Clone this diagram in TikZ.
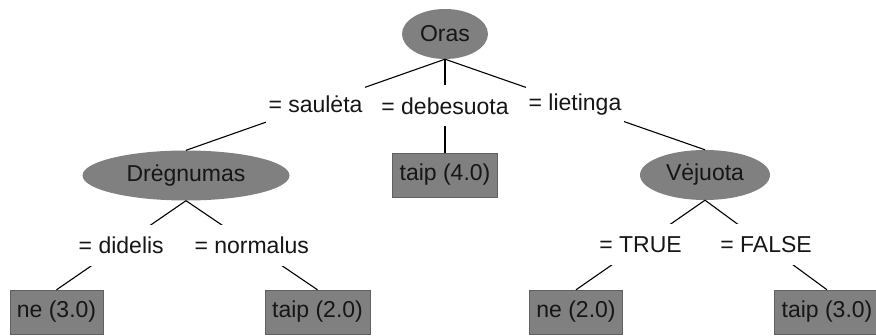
\documentclass[tikz,border=0pt]{standalone}
\usepackage{fontspec}
\setmainfont{Liberation Sans}
\usetikzlibrary{shapes.geometric}
\definecolor{splitgray}{RGB}{128,128,128}
\definecolor{leafframe}{RGB}{96,96,96}
\definecolor{inktext}{RGB}{22,22,22}
\newcommand{\treefont}{\fontsize{23}{27}\selectfont}

\begin{document}
\begin{tikzpicture}[x=1pt,y=-1pt,
  attr/.style={ellipse,fill=splitgray,inner sep=0pt,minimum height=50pt,font=\treefont,text=inktext},
  leaf/.style={rectangle,fill=splitgray,draw=leafframe,thin,inner xsep=7pt,inner ysep=0pt,minimum height=44pt,font=\treefont,text=inktext},
  val/.style={fill=white,inner xsep=3pt,inner ysep=0pt,minimum height=41pt,font=\treefont,text=inktext},
  branch/.style={draw=black,line width=1.1pt},
]
\clip (0,0) rectangle (876,336);
\fill[white] (0,0) rectangle (876,336);

% ---- attribute nodes ----
\node[attr,minimum width=86pt]  (oras) at (445,34)    {Oras};
\node[attr,minimum width=207pt] (dreg) at (186,175.5) {Drėgnumas};
\node[attr,minimum width=130pt] (vej)  at (705,175)   {Vėjuota};

% ---- leaves ----
\node[leaf] (debes) at (445,175)   {taip (4.0)};
\node[leaf] (ne1)   at (56.5,312)  {ne (3.0)};
\node[leaf] (taip1) at (317.5,312) {taip (2.0)};
\node[leaf] (ne2)   at (576,312)   {ne (2.0)};
\node[leaf] (taip2) at (827,312)   {taip (3.0)};

% ---- branches with their values ----
\draw[branch] (oras.south) -- node[val]{= saulėta}   (dreg.north);
\draw[branch] (oras.south) -- node[val]{= debesuota} (debes.north);
\draw[branch] (oras.south) -- node[val]{= lietinga}  (vej.north);

\draw[branch] (dreg.south) -- node[val]{= didelis}  (ne1.north);
\draw[branch] (dreg.south) -- node[val]{= normalus} (taip1.north);

\draw[branch] (vej.south) -- node[val]{= TRUE}  (ne2.north);
\draw[branch] (vej.south) -- node[val]{= FALSE} (taip2.north);
\end{tikzpicture}
\end{document}
